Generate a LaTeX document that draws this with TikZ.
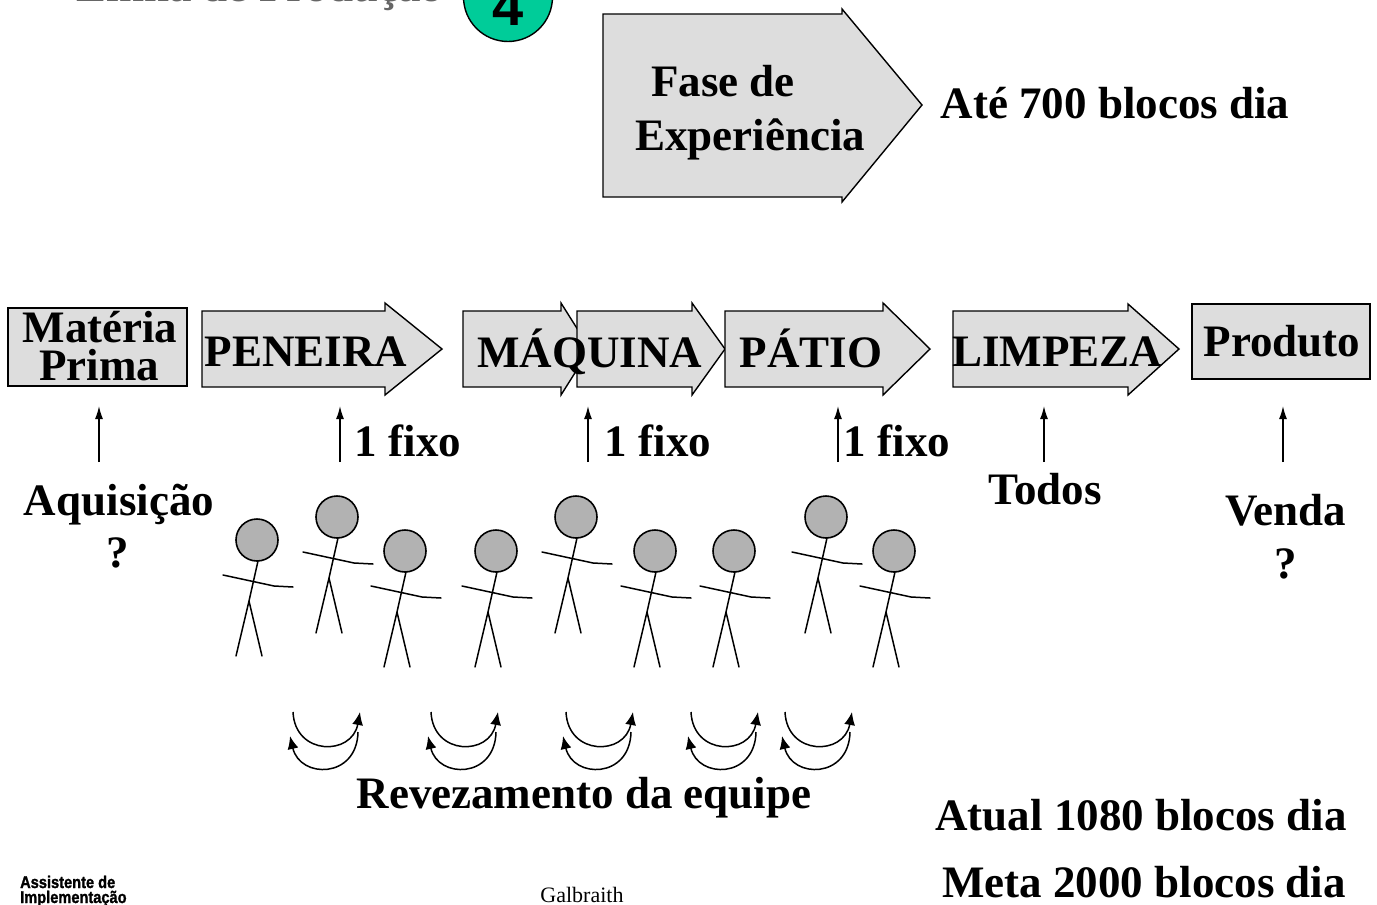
\documentclass[tikz,border=0pt]{standalone}
\usepackage{fontspec}
\setmainfont{Liberation Serif}
\newfontfamily\labelsans{Liberation Sans}
\newfontfamily\heavysans[FakeBold=1.5]{Liberation Sans}
\usetikzlibrary{arrows.meta}
\definecolor{boxgray}{RGB}{221,221,221}
\definecolor{headgray}{RGB}{178,178,178}
\definecolor{badgegreen}{RGB}{0,204,153}
\begin{document}
\begin{tikzpicture}[x=1pt,y=-1pt,
  stagebox/.style={draw=black,line width=1.4pt,fill=boxgray,line join=miter},
  bigtext/.style={font=\fontsize{45}{50}\selectfont\bfseries,inner sep=0pt,anchor=base},
  footsans/.style={font=\heavysans\bfseries\fontsize{17}{17}\selectfont,inner sep=0pt,anchor=base west,xscale=0.86},
  uparrow/.style={line width=1.5pt,-{Latex[length=13pt,width=8pt]}},
  limb/.style={line width=1.5pt,line cap=round},
  rotarrow/.style={line width=1.5pt,-{Latex[length=13pt,width=11pt]}},
  stickman/.pic={
    \draw[limb] (1,21) -- (-8,61) -- (-21,116) (-8,61) -- (5,116);
    \draw[limb] (-34,35) -- (17,46) -- (36,47);
    \draw[line width=1.6pt,fill=headgray] (0,0) circle[radius=21pt];
  },
  swaparrows/.pic={
    \draw[rotarrow] (-33,-28) .. controls (-31,16) and (26,16) .. (34,-28);
    \draw[rotarrow] (32,-8) .. controls (31,39) and (-26,39) .. (-36,-4);
  }
]
\clip (0,0) rectangle (1377,905);
\fill[white] (0,0) rectangle (1377,905);

% heading and badge (cut by the page top)
\node[bigtext,text=black!60] (title) at (260,1) {Linha de Produção};
\node[circle,draw=black,line width=1.4pt,fill=badgegreen,minimum size=89pt,inner sep=0pt] (badge) at (508,-3) {};
\node[font=\labelsans\bfseries\fontsize{56}{60}\selectfont,inner sep=0pt,anchor=base] (badgenum) at (508,25) {4};

% experience phase
\draw[stagebox] (603,14) -- (842,14) -- (842,9) -- (922,105) -- (842,202) -- (842,197) -- (603,197) -- cycle;
\node[bigtext] (fase1) at (723,96) {Fase de};
\node[bigtext] (fase2) at (750,150) {Experiência};
\node[bigtext] (ate) at (1115,118) {Até 700 blocos dia};

% production line
\draw[stagebox] (8,308) rectangle (187,386);
\draw[stagebox] (202,311) -- (385,311) -- (385,303) -- (442,349) -- (385,395) -- (385,387) -- (202,387) -- cycle;
\draw[stagebox] (463,311) -- (561,311) -- (561,303) -- (590,349) -- (561,395) -- (561,387) -- (463,387) -- cycle;
\draw[stagebox] (577,311) -- (692,311) -- (692,303) -- (725,349) -- (692,395) -- (692,387) -- (577,387) -- cycle;
\draw[stagebox] (725,311) -- (883,311) -- (883,303) -- (930,349) -- (883,395) -- (883,387) -- (725,387) -- cycle;
\draw[stagebox] (953,311) -- (1128,311) -- (1128,304) -- (1179,349) -- (1128,395) -- (1128,387) -- (953,387) -- cycle;
\draw[stagebox] (1192,304) rectangle (1370,379);

\node[bigtext] (mat1) at (100,342) {Matéria};
\node[bigtext] (mat2) at (99,380) {Prima};
\node[bigtext] (peneira) at (306,366) {PENEIRA};
\node[bigtext] (maquina) at (590,367) {MÁQUINA};
\node[bigtext] (patio) at (811,367) {PÁTIO};
\node[bigtext] (limpeza) at (1057,366) {LIMPEZA};
\node[bigtext] (produto) at (1282,356) {Produto};

% upward arrows
\foreach \n/\px in {a/99,b/340,c/588,d/838,e/1044,f/1283}{
  \coordinate (low\n) at (\px,462);
  \coordinate (high\n) at (\px,406);
  \draw[uparrow] (low\n) -- (high\n);
}

\node[bigtext] (fixo1) at (408,456) {1 fixo};
\node[bigtext] (fixo2) at (658,456) {1 fixo};
\node[bigtext] (fixo3) at (897,456) {1 fixo};
\node[bigtext] (aquis) at (119,515) {Aquisição};
\node[bigtext] (aquisq) at (118,567) {?};
\node[bigtext] (todos) at (1045,504) {Todos};
\node[bigtext] (venda) at (1286,525) {Venda};
\node[bigtext] (vendaq) at (1286,578) {?};

% team
\foreach \hx/\hy in {257/540,337/517,405/551,496/551,576/517,655/551,734/551,826/517,894/551}
  \pic at (\hx,\hy) {stickman};

\foreach \cx in {326,464,599,724,818}
  \pic at (\cx,740) {swaparrows};

\node[bigtext] (rev) at (584,808) {Revezamento da equipe};
\node[bigtext] (atual) at (1141,830) {Atual 1080 blocos dia};
\node[bigtext] (meta) at (1144,897) {Meta 2000 blocos dia};

% footer
\node[footsans] (assist1) at (20,888) {Assistente de};
\node[footsans] (assist2) at (20,903) {Implementação};
\node[font=\fontsize{22}{24}\selectfont,inner sep=0pt,anchor=base] (galb) at (582,902) {Galbraith};
\end{tikzpicture}
\end{document}
